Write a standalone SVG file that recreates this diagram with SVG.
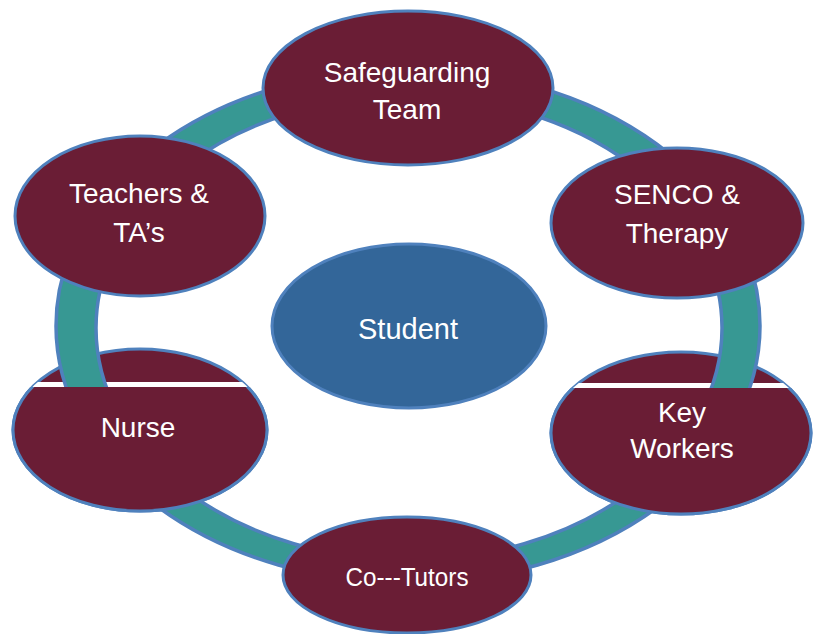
<svg xmlns="http://www.w3.org/2000/svg" width="818" height="634" viewBox="0 0 818 634">
<style>
  .node { fill: #6a1d35; stroke: #4f81bd; stroke-width: 3; }
  .center { fill: #336699; stroke: #4f81bd; stroke-width: 3; }
  .ring { fill: #379893; stroke: #4f81bd; stroke-width: 3.5; fill-rule: evenodd; }
  .lbl { fill: #ffffff; font-family: "Liberation Sans", Arial, sans-serif; font-size: 28px; text-anchor: middle; }
  .band { fill: #ffffff; }
</style>
<defs>
  <clipPath id="nurseClip"><ellipse cx="140" cy="430" rx="127" ry="81"/></clipPath>
  <clipPath id="nurseLow"><rect x="0" y="387" width="300" height="140"/></clipPath>
  <clipPath id="keyClip"><ellipse cx="681" cy="433" rx="130" ry="81"/></clipPath>
  <clipPath id="keyLow"><rect x="540" y="388" width="278" height="140"/></clipPath>
</defs>
<rect width="818" height="634" fill="#ffffff"/>

<!-- under-ring caps of Nurse and Key Workers -->
<g id="nurse-cap">
  <ellipse class="node" cx="140" cy="430" rx="127" ry="81"/>
  <rect class="band" x="0" y="382" width="300" height="5" clip-path="url(#nurseClip)"/>
</g>
<g id="key-cap">
  <ellipse class="node" cx="681" cy="433" rx="130" ry="81"/>
  <rect class="band" x="540" y="383" width="278" height="5" clip-path="url(#keyClip)"/>
</g>

<g id="connectors">
  <path class="ring" d="M56,326 A352,257 0 1,0 760,326 A352,257 0 1,0 56,326 Z M96,328 A313,232 0 1,0 722,328 A313,232 0 1,0 96,328 Z"/>
</g>

<g id="nurse">
  <g clip-path="url(#nurseLow)">
    <ellipse class="node" cx="140" cy="430" rx="127" ry="81"/>
  </g>
  <text class="lbl" x="138" y="437">Nurse</text>
</g>
<g id="key-workers">
  <g clip-path="url(#keyLow)">
    <ellipse class="node" cx="681" cy="433" rx="130" ry="81"/>
  </g>
  <text class="lbl" x="682" y="422">Key</text>
  <text class="lbl" x="682" y="458">Workers</text>
</g>

<g id="safeguarding">
  <ellipse class="node" cx="408" cy="88" rx="145" ry="77"/>
  <text class="lbl" x="407" y="82">Safeguarding</text>
  <text class="lbl" x="407" y="119">Team</text>
</g>
<g id="teachers">
  <ellipse class="node" cx="140" cy="216" rx="125" ry="80"/>
  <text class="lbl" x="139" y="203">Teachers &amp;</text>
  <text class="lbl" x="139" y="242">TA’s</text>
</g>
<g id="senco">
  <ellipse class="node" cx="677" cy="223" rx="126" ry="75"/>
  <text class="lbl" x="677" y="204">SENCO &amp;</text>
  <text class="lbl" x="677" y="243">Therapy</text>
</g>
<g id="student">
  <ellipse class="center" cx="409" cy="326" rx="137" ry="82"/>
  <text class="lbl" x="408" y="339" style="font-size:29px">Student</text>
</g>
<g id="co-tutors">
  <ellipse class="node" cx="407" cy="575" rx="124" ry="58"/>
  <text class="lbl" x="407" y="586" style="font-size:25px" textLength="123" lengthAdjust="spacingAndGlyphs">Co---Tutors</text>
</g>
</svg>
